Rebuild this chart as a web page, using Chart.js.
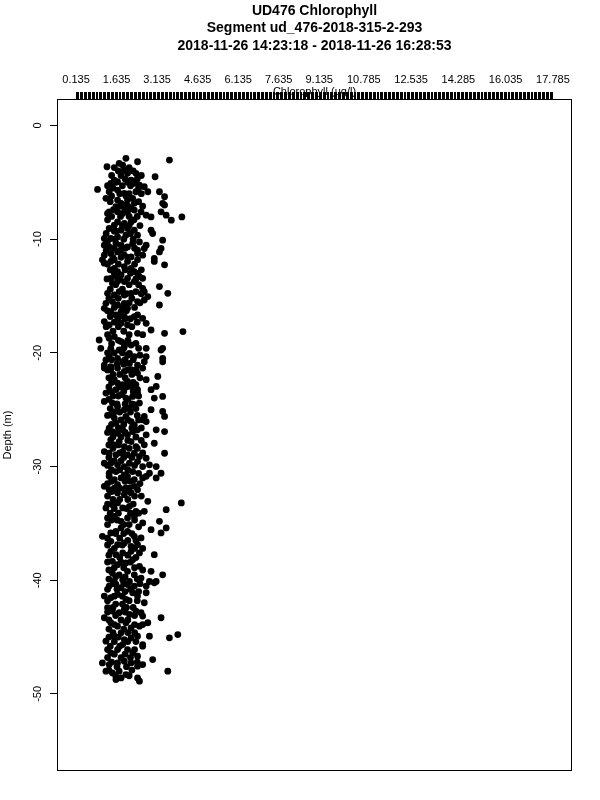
<!DOCTYPE html>
<html>
<head>
<meta charset="utf-8">
<script src="https://cdn.jsdelivr.net/npm/chart.js@4.4.1/dist/chart.umd.min.js"></script>
<style>
  html, body { margin: 0; padding: 0; background: #fff; }
  #wrap { width: 600px; height: 800px; }
</style>
</head>
<body>
<div id="wrap"><canvas id="profile" width="600" height="800"></canvas></div>
<script>
// UD476 chlorophyll profile - depth vs chlorophyll scatter

const titleLines = [
  'UD476 Chlorophyll',
  'Segment ud_476-2018-315-2-293',
  '2018-11-26 14:23:18 - 2018-11-26 16:28:53'
];
const xAxisTitle = 'Chlorophyll (ug/l)';
const yAxisTitle = 'Depth (m)';

// top axis: dense ticks, only some labelled
const xTickStart = 0.135;
const xTickStep = 0.05;
const xTickCount = 354;
const xTickLabels = ['0.135', '1.635', '3.135', '4.635', '6.135', '7.635',
  '9.135', '10.785', '12.535', '14.285', '16.035', '17.785'];
const yTicks = [0, -10, -20, -30, -40, -50];
const yTickLabels = ['0', '-10', '-20', '-30', '-40', '-50'];
const xRange = [-0.571, 18.491];
const yRange = [-56.78, 2.33];

// [chlorophyll, depth], top to bottom
const castTop = [
  [1.98, -2.89], [3.59, -3.04], [2.41, -3.19], [1.73, -3.33], [1.86, -3.48], [1.28, -3.63],
  [1.92, -3.92], [2.04, -4.21], [2.35, -4.21], [3.06, -4.51], [1.55, -4.80], [1.42, -5.09],
  [1.67, -4.95], [2.17, -4.80], [2.29, -5.09], [2.48, -5.24], [2.66, -5.39], [0.93, -5.62],
  [1.36, -5.83], [1.67, -5.68], [1.92, -5.97], [2.35, -5.83], [2.79, -5.83], [3.22, -5.83],
  [1.24, -6.41], [1.67, -6.56], [1.80, -6.85], [1.61, -7.15], [1.92, -7.00], [2.04, -6.56],
  [2.23, -6.41], [2.29, -6.85], [2.17, -7.30], [3.41, -6.27], [3.34, -6.85], [3.41, -7.00],
  [1.36, -7.59], [1.30, -7.74], [1.67, -7.59], [1.86, -7.74], [2.04, -7.59], [2.29, -7.44],
  [2.54, -7.59], [2.73, -7.89], [2.91, -8.04], [3.28, -7.59], [3.47, -7.89], [3.66, -8.33],
  [4.05, -8.04], [1.67, -8.48], [1.92, -8.62], [2.17, -8.48], [1.55, -8.77], [1.36, -9.06],
  [1.80, -9.21], [2.04, -9.06], [2.29, -9.21], [2.91, -9.21], [2.97, -9.50], [2.41, -9.65],
  [1.98, -9.65], [1.67, -9.80], [1.42, -9.94], [1.18, -9.94], [3.34, -10.09], [1.18, -10.53],
  [1.36, -10.68], [1.61, -10.38], [1.80, -10.53], [2.04, -10.68], [2.23, -10.38], [2.48, -10.24],
  [2.73, -10.53], [2.66, -10.82], [2.41, -10.97], [3.28, -10.82], [3.22, -11.12], [1.18, -11.41],
  [1.42, -11.26], [1.67, -11.12], [1.92, -11.41], [2.17, -11.56], [2.41, -11.26], [2.60, -11.41],
  [3.03, -11.70]
];
// overlapping points inside the solid black core
const castTopCore = [
  [1.55, -3.7], [2.10, -3.7], [1.70, -4.0], [2.25, -4.0], [1.45, -4.4], [1.80, -4.4], [2.55, -4.4],
  [1.95, -4.7], [2.40, -4.7], [1.60, -5.0], [2.05, -5.0], [1.30, -5.3], [1.85, -5.3], [2.15, -5.3],
  [2.45, -5.5], [1.50, -5.5], [1.75, -6.0], [2.10, -6.0], [2.55, -6.0], [1.45, -6.2], [1.98, -6.2],
  [1.40, -6.7], [2.45, -6.7], [1.80, -7.1], [2.05, -7.1], [2.60, -7.1], [1.52, -7.4], [1.95, -7.4],
  [1.45, -8.0], [1.78, -8.0], [2.10, -8.0], [2.40, -8.0], [1.30, -8.3], [2.28, -8.3], [1.85, -8.8],
  [2.10, -8.8], [2.50, -8.8], [1.55, -9.3], [1.62, -9.3], [1.25, -9.5], [2.15, -9.5], [1.58, -10.0],
  [1.90, -10.0], [2.25, -10.0], [1.30, -10.2], [1.55, -10.8], [1.95, -10.8], [2.30, -10.8],
  [1.25, -11.0], [1.78, -11.0], [1.50, -11.6], [1.80, -11.6], [2.05, -11.6]
];
const castUpperMid = [
  [1.11, -11.82], [1.18, -12.11], [1.42, -11.96], [1.55, -11.82], [2.04, -11.96], [1.92, -12.41],
  [2.17, -12.56], [2.29, -12.85], [2.41, -13.00], [2.48, -13.29], [2.41, -11.82], [3.03, -11.96],
  [3.41, -12.26], [1.55, -12.56], [1.67, -12.85], [1.80, -13.15], [1.61, -13.29], [1.42, -13.44],
  [1.48, -13.88], [1.67, -13.73], [1.92, -13.73], [2.04, -13.44], [2.60, -13.44], [2.29, -13.73],
  [3.22, -14.17], [2.60, -14.32], [2.66, -14.61], [3.53, -14.76], [1.30, -14.76], [1.55, -14.91],
  [1.73, -14.61], [1.92, -14.91], [2.17, -14.76], [2.35, -14.61], [2.79, -15.05], [2.66, -15.35],
  [2.41, -15.49], [3.22, -15.79], [1.24, -15.64], [1.48, -15.49], [1.67, -15.79], [1.92, -15.64],
  [2.04, -16.08], [1.80, -16.37], [1.18, -16.08], [1.42, -16.37], [1.61, -16.67], [1.67, -17.11],
  [1.92, -16.81], [1.80, -17.40], [2.04, -17.55], [2.29, -16.81], [2.41, -16.67], [2.60, -16.96],
  [2.73, -17.40], [1.18, -17.25], [1.36, -17.55], [2.91, -17.99], [2.41, -18.28], [3.41, -18.28],
  [4.09, -18.13], [0.99, -18.87], [1.36, -18.72], [1.55, -18.57], [1.80, -19.01], [1.92, -19.45],
  [2.17, -19.31], [2.35, -19.16], [1.05, -19.60], [1.42, -19.60], [1.73, -19.75], [2.11, -20.04],
  [2.29, -20.33], [2.73, -19.60], [3.34, -19.60], [3.28, -19.75], [1.36, -20.33], [1.24, -20.63],
  [1.67, -20.48], [1.86, -20.78], [2.11, -20.93], [2.41, -21.07], [2.73, -20.33], [2.66, -20.78],
  [3.34, -20.48], [3.34, -20.78], [1.18, -21.07], [1.42, -21.22]
];
const castUpperMidCore = [
  [1.70, -12.2], [2.30, -12.2], [1.30, -12.2], [1.95, -12.7], [2.55, -12.7], [1.40, -12.7],
  [1.55, -13.0], [2.15, -13.0], [1.75, -13.5], [2.35, -13.5], [1.28, -13.5], [1.60, -14.0],
  [2.10, -14.0], [2.45, -14.0], [1.40, -14.4], [1.85, -14.4], [2.00, -14.8], [2.55, -14.8],
  [1.35, -15.2], [1.70, -15.2], [2.20, -15.2], [2.10, -15.6], [2.50, -15.6], [1.55, -16.0],
  [1.85, -16.0], [2.30, -16.0], [2.00, -16.3], [1.30, -16.3], [1.40, -16.8], [1.75, -16.8],
  [2.15, -17.0], [1.95, -17.0], [1.55, -17.3], [2.40, -17.3], [1.25, -17.7], [1.70, -17.7],
  [2.20, -17.7], [1.50, -18.1], [1.90, -18.1], [1.30, -18.4], [2.10, -18.4], [2.60, -18.4],
  [1.70, -18.9], [2.05, -18.9], [1.45, -19.2], [1.95, -19.2], [1.90, -19.6], [2.45, -19.6],
  [1.30, -20.0], [1.55, -20.0], [1.85, -20.0], [2.05, -20.2], [2.50, -20.2], [1.45, -20.6],
  [1.95, -20.6], [2.25, -20.6], [1.65, -21.0], [1.90, -21.0]
];
const castMid = [
  [1.18, -21.34], [1.42, -21.48], [1.67, -21.34], [1.92, -21.63], [2.17, -21.48], [2.41, -21.78],
  [2.60, -21.34], [2.73, -22.36], [3.16, -22.07], [3.10, -22.95], [2.91, -23.24], [1.55, -22.36],
  [1.67, -22.66], [1.86, -22.80], [2.04, -22.51], [2.17, -22.95], [2.35, -22.80], [2.41, -23.24],
  [1.24, -23.54], [1.42, -23.39], [1.61, -23.24], [1.80, -23.68], [1.98, -23.98], [2.23, -23.83],
  [2.41, -23.54], [3.03, -23.98], [3.34, -23.83], [1.18, -24.27], [1.48, -24.42], [1.67, -24.71],
  [1.92, -25.00], [2.11, -24.86], [2.29, -24.56], [2.48, -24.42], [2.91, -25.00], [3.34, -25.15],
  [3.41, -25.59], [2.66, -25.59], [2.73, -26.04], [2.60, -25.89], [1.42, -25.45], [1.55, -25.74],
  [1.61, -26.19], [1.80, -25.89], [1.98, -25.59], [2.17, -26.04], [2.29, -26.33], [1.36, -26.63],
  [1.48, -26.92], [1.67, -27.07], [1.86, -26.77], [2.04, -27.21], [2.23, -26.92], [2.41, -26.77],
  [3.10, -26.77], [3.41, -26.92], [2.73, -27.21], [3.03, -27.95], [2.66, -28.09], [1.42, -27.65],
  [1.55, -28.09], [1.73, -27.80], [1.92, -28.24], [2.17, -27.80], [2.35, -28.24], [1.18, -28.68],
  [1.36, -28.83], [1.61, -28.97], [1.86, -28.68], [2.04, -28.97], [2.29, -28.83], [2.48, -29.12],
  [2.73, -29.27], [3.41, -28.83], [1.18, -29.71], [1.42, -29.71], [1.67, -29.85], [1.92, -30.00],
  [2.11, -29.71], [2.41, -29.56], [2.60, -30.00], [2.85, -29.85], [3.10, -30.00], [1.36, -30.59],
  [1.61, -30.44], [1.92, -30.73], [2.23, -30.44], [2.85, -30.59], [3.28, -30.59]
];
const castMidCore = [
  [1.30, -21.5], [2.05, -21.5], [2.35, -21.5], [1.50, -21.9], [1.75, -21.9], [2.20, -21.9],
  [1.35, -22.2], [1.95, -22.2], [2.50, -22.2], [1.45, -22.6], [2.25, -22.6], [1.35, -23.0],
  [1.75, -23.0], [2.00, -23.0], [1.90, -23.4], [2.25, -23.4], [1.50, -23.8], [1.70, -23.8],
  [2.45, -23.8], [1.35, -24.1], [2.05, -24.1], [1.65, -24.5], [1.95, -24.5], [2.20, -24.5],
  [1.40, -24.9], [2.35, -24.9], [1.55, -25.2], [1.75, -25.2], [2.15, -25.2], [1.30, -25.5],
  [2.40, -25.5], [2.05, -25.9], [2.45, -25.9], [1.45, -26.3], [1.90, -26.3], [1.70, -26.6],
  [2.20, -26.6], [2.55, -26.6], [1.30, -27.0], [1.95, -27.0], [1.50, -27.4], [1.80, -27.4],
  [2.35, -27.4], [2.05, -27.7], [2.55, -27.7], [1.35, -28.1], [1.70, -28.1], [1.50, -28.4],
  [2.10, -28.4], [2.40, -28.4], [1.75, -28.8], [2.60, -28.8], [1.35, -29.2], [1.90, -29.2],
  [2.20, -29.2], [1.55, -29.5], [1.80, -29.5], [1.30, -29.9], [2.30, -29.9], [1.45, -30.3],
  [1.75, -30.3], [2.05, -30.3], [2.45, -30.6]
];
const castLowerMid = [
  [1.36, -30.86], [1.55, -31.15], [1.80, -31.00], [2.04, -30.86], [2.29, -31.15], [2.60, -31.00],
  [2.73, -30.86], [3.10, -31.00], [1.18, -31.74], [1.36, -32.03], [1.67, -31.59], [1.98, -31.88],
  [2.29, -31.74], [2.41, -32.03], [2.17, -32.32], [1.92, -32.47], [1.67, -32.32], [2.79, -33.06],
  [3.47, -33.79], [4.03, -33.20], [1.24, -33.64], [1.48, -33.35], [1.67, -33.20], [1.86, -33.64],
  [2.11, -33.50], [2.35, -33.94], [2.66, -33.94], [1.30, -34.52], [1.55, -34.38], [1.80, -34.82],
  [2.04, -34.52], [2.29, -34.38], [2.60, -34.96], [3.22, -34.82], [2.91, -35.55], [3.28, -35.84],
  [3.47, -35.40], [1.11, -36.14], [1.42, -35.84], [1.61, -35.70], [1.80, -35.40], [2.04, -35.70],
  [2.29, -36.14], [2.54, -36.28], [1.42, -36.58], [1.67, -36.87], [1.92, -36.72], [2.17, -37.02],
  [2.41, -36.87], [1.42, -37.46], [1.61, -37.75], [1.86, -37.60], [2.17, -37.46], [2.48, -37.60],
  [3.03, -37.75], [1.48, -38.34], [1.67, -38.63], [1.98, -38.48], [2.23, -38.19], [2.48, -38.78],
  [1.48, -39.37], [1.73, -39.52], [2.04, -39.22], [2.29, -39.52], [2.54, -39.81], [2.91, -39.22],
  [3.34, -39.52], [3.10, -40.11], [2.85, -40.11], [1.55, -40.11], [1.86, -39.96], [2.11, -40.11]
];
const castLowerMidCore = [
  [1.45, -31.3], [1.95, -31.3], [2.15, -31.3], [1.30, -31.5], [2.50, -31.5], [1.55, -31.9],
  [1.75, -31.9], [2.10, -31.9], [1.45, -32.2], [1.95, -32.2], [1.30, -32.6], [2.30, -32.6],
  [2.55, -32.6], [1.50, -32.9], [1.75, -32.9], [2.05, -32.9], [1.30, -33.3], [2.25, -33.3],
  [1.55, -33.7], [2.00, -33.7], [1.40, -34.1], [1.70, -34.1], [2.15, -34.1], [2.45, -34.1],
  [1.45, -34.7], [1.65, -34.7], [2.30, -34.7], [1.30, -35.1], [1.90, -35.1], [2.10, -35.1],
  [2.45, -35.3], [1.60, -35.9], [1.90, -35.9], [2.20, -35.9], [1.30, -36.3], [1.75, -36.3],
  [2.05, -36.5], [2.35, -36.5], [1.30, -36.9], [1.85, -36.9], [1.55, -37.2], [2.30, -37.2],
  [2.60, -37.2], [1.35, -37.8], [2.05, -37.8], [1.75, -38.0], [2.35, -38.0], [1.30, -38.4],
  [1.80, -38.4], [2.15, -38.4], [1.55, -38.9], [1.90, -38.9], [2.30, -38.9], [1.35, -39.1],
  [2.60, -39.1], [1.60, -39.7], [1.95, -39.7], [2.40, -39.9], [1.35, -39.9]
];
const castBottom = [
  [1.36, -40.51], [1.61, -40.37], [1.80, -40.66], [2.04, -40.37], [2.29, -40.51], [2.73, -40.51],
  [3.03, -40.22], [1.18, -41.39], [1.42, -41.54], [1.67, -41.25], [1.98, -41.69], [2.23, -41.10],
  [2.41, -41.39], [2.73, -41.10], [2.66, -41.98], [1.30, -42.42], [1.48, -42.71], [1.73, -42.86],
  [1.92, -42.57], [2.11, -43.01], [2.35, -42.71], [2.54, -42.86], [2.60, -43.15], [3.28, -43.30],
  [1.18, -43.30], [1.42, -43.74], [1.67, -44.04], [1.98, -43.74], [2.17, -44.19], [2.48, -44.04],
  [2.79, -43.74], [1.24, -45.36], [1.55, -44.92], [1.80, -44.63], [1.92, -45.22], [2.17, -45.07],
  [2.41, -44.92], [2.60, -45.66], [2.85, -44.92], [3.59, -45.07], [3.90, -44.78], [1.42, -46.39],
  [1.67, -46.10], [1.86, -45.66], [2.04, -46.10], [2.23, -46.39], [2.41, -46.68], [2.60, -45.80],
  [2.97, -46.98], [1.11, -47.27], [1.36, -47.42], [1.67, -47.27], [1.92, -47.12], [2.17, -47.27],
  [2.41, -47.56], [2.60, -47.42], [1.24, -48.00], [1.48, -48.15], [1.73, -48.00], [1.98, -48.30],
  [3.53, -48.00], [1.61, -48.74], [1.80, -48.59], [2.41, -48.59], [2.48, -48.88]
];
const castBottomCore = [
  [1.50, -40.3], [1.90, -40.3], [2.50, -40.3], [1.30, -40.8], [1.65, -40.8], [2.15, -40.8],
  [1.95, -41.0], [2.45, -41.0], [1.55, -41.4], [1.85, -41.4], [1.30, -41.8], [2.10, -41.8],
  [2.40, -41.8], [1.60, -42.1], [1.85, -42.1], [1.50, -42.4], [2.25, -42.4], [2.00, -42.4],
  [1.30, -42.8], [1.95, -42.8], [1.60, -43.1], [2.30, -43.1], [1.35, -43.5], [1.80, -43.5],
  [2.05, -43.5], [1.55, -43.9], [2.30, -43.9], [2.60, -43.9], [1.35, -44.3], [1.90, -44.3],
  [1.50, -44.6], [2.05, -44.6], [2.30, -44.6], [1.35, -45.0], [1.70, -45.0], [1.55, -45.4],
  [2.05, -45.4], [2.35, -45.4], [1.40, -45.8], [1.75, -45.8], [1.30, -46.1], [2.30, -46.1],
  [1.55, -46.5], [1.95, -46.5], [1.30, -46.8], [1.80, -46.8], [2.15, -46.8], [1.45, -47.2],
  [2.40, -47.2], [1.65, -47.6], [2.00, -47.6], [1.35, -47.9], [2.20, -47.9], [1.60, -48.4],
  [2.10, -48.4]
];

const castPoints = [castTop, castTopCore, castUpperMid, castUpperMidCore, castMid, castMidCore,
  castLowerMid, castLowerMidCore, castBottom, castBottomCore]
  .flat()
  .map(([chl, depth]) => ({ x: chl, y: depth }));

const xTickValues = Array.from({ length: xTickCount },
  (_, i) => +(xTickStart + i * xTickStep).toFixed(3));

Chart.defaults.font.family = '"Liberation Sans", Arial, sans-serif';
Chart.defaults.color = '#000';

// titles, axis names, y labels and the frame (R style)
const decor = {
  id: 'decor',
  afterDraw(chart) {
    const { ctx, chartArea: a, scales } = chart;
    const midX = (a.left + a.right) / 2;
    ctx.save();
    ctx.fillStyle = '#000';
    ctx.strokeStyle = '#000';
    ctx.lineWidth = 1;
    ctx.strokeRect(a.left + 0.5, a.top + 0.5, a.right - a.left - 1, a.bottom - a.top - 1);

    ctx.font = 'bold 14px "Liberation Sans", Arial, sans-serif';
    ctx.textAlign = 'center';
    ctx.textBaseline = 'middle';
    titleLines.forEach((line, i) => ctx.fillText(line, midX, 11 + i * 17.5));

    ctx.font = '11px "Liberation Sans", Arial, sans-serif';
    ctx.textBaseline = 'alphabetic';
    ctx.fillText(xAxisTitle, midX, 95);

    yTicks.forEach((v, i) => {
      const py = scales.y.getPixelForValue(v);
      ctx.save();
      ctx.translate(41, py);
      ctx.rotate(-Math.PI / 2);
      ctx.fillText(yTickLabels[i], 0, 0);
      ctx.restore();
    });

    ctx.translate(11, (a.top + a.bottom) / 2);
    ctx.rotate(-Math.PI / 2);
    ctx.fillText(yAxisTitle, 0, 0);
    ctx.restore();
  }
};

new Chart(document.getElementById('profile'), {
  type: 'scatter',
  data: {
    datasets: [{
      label: 'Chlorophyll',
      data: castPoints,
      backgroundColor: '#000',
      borderWidth: 0,
      pointRadius: 3.4,
      pointStyle: 'circle'
    }]
  },
  options: {
    responsive: false,
    animation: false,
    devicePixelRatio: 1,
    events: [],
    layout: { padding: { left: 0, top: 0, right: 28, bottom: 29 } },
    plugins: {
      legend: { display: false },
      tooltip: { enabled: false },
      title: { display: false }
    },
    scales: {
      x: {
        type: 'linear',
        position: 'top',
        min: xRange[0],
        max: xRange[1],
        afterBuildTicks: (scale) => { scale.ticks = xTickValues.map(v => ({ value: v })); },
        afterFit: (scale) => { scale.height = 99; },
        border: { display: false },
        grid: { drawOnChartArea: false, drawTicks: true, tickLength: 7, color: '#000', lineWidth: 1 },
        ticks: {
          autoSkip: false,
          maxRotation: 0,
          minRotation: 0,
          padding: 5,
          font: { size: 11 },
          color: '#000',
          callback: (value) => {
            const s = Number(value).toFixed(3);
            return xTickLabels.includes(s) ? s : '';
          }
        }
      },
      y: {
        type: 'linear',
        min: yRange[0],
        max: yRange[1],
        afterBuildTicks: (scale) => { scale.ticks = yTicks.map(v => ({ value: v })); },
        afterFit: (scale) => { scale.width = 57; },
        border: { display: false },
        grid: { drawOnChartArea: false, drawTicks: true, tickLength: 7, color: '#000', lineWidth: 1 },
        ticks: { display: false }
      }
    }
  },
  plugins: [decor]
});
</script>
</body>
</html>
